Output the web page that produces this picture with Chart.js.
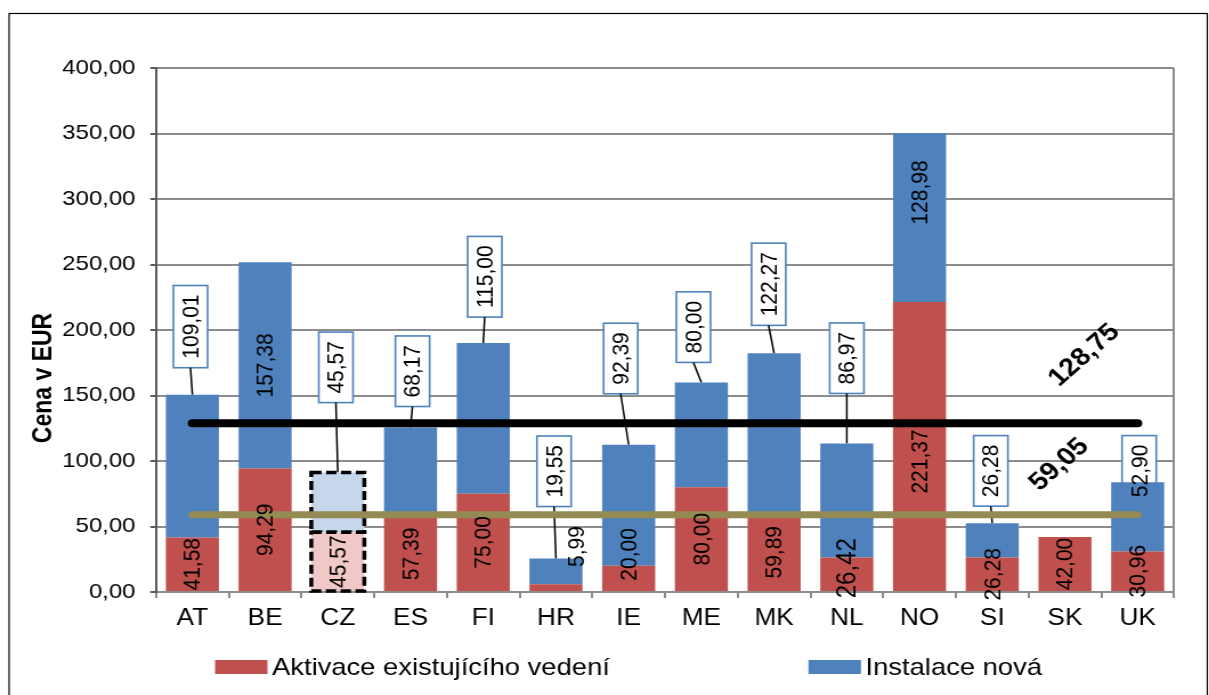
<!DOCTYPE html>
<html>
<head>
<meta charset="utf-8">
<script src="https://cdn.jsdelivr.net/npm/chart.js@4.4.0/dist/chart.umd.min.js"></script>
<style>
  html, body { margin: 0; padding: 0; background: #fff; overflow: hidden; }
  /* the reference is stretched sideways, so the chart is drawn narrower and stretched the same way */
  #wrap { width: 1060px; height: 695px; transform: scaleX(1.1406); transform-origin: 0 0; }
</style>
</head>
<body>
<div id="wrap"><canvas id="myChart"></canvas></div>
<script>
const categories = ['AT', 'BE', 'CZ', 'ES', 'FI', 'HR', 'IE', 'ME', 'MK', 'NL', 'NO', 'SI', 'SK', 'UK'];

// Aktivace existujícího vedení (red, bottom)
const aktivace = [41.58, 94.29, 45.57, 57.39, 75.00, 5.99, 20.00, 80.00, 59.89, 26.42, 221.37, 26.28, 42.00, 30.96];
// Instalace nová (blue, top)
const instalace = [109.01, 157.38, 45.57, 68.17, 115.00, 19.55, 92.39, 80.00, 122.27, 86.97, 128.98, 26.28, null, 52.90];

// the two horizontal reference lines
const prumerCelkem = [128.75, 128.75, 128.75, 128.75, 128.75, 128.75, 128.75, 128.75, 128.75, 128.75, 128.75, 128.75, 128.75, 128.75];
const prumerAktivace = [59.05, 59.05, 59.05, 59.05, 59.05, 59.05, 59.05, 59.05, 59.05, 59.05, 59.05, 59.05, 59.05, 59.05];

const yTicks = [0, 50, 100, 150, 200, 250, 300, 350, 400];
const highlighted = 'CZ';

const RED = '#C0504D';
const BLUE = '#4F81BD';
const RED_LIGHT = '#F0C8C7';
const BLUE_LIGHT = '#C6D6EB';

// where each blue label goes: box above the bar (dx, gap to bar top) or inside the segment
const blueLayout = [
    { box: true, dx: -1.7, gap: 27 },
    { box: false, dy: 0 },
    { box: true, dx: -1.7, gap: 70 },
    { box: true, dx: 1.7, gap: 21 },
    { box: true, dx: 1.3, gap: 26 },
    { box: true, dx: -1.7, gap: 52 },
    { box: true, dx: -7, gap: 51 },
    { box: true, dx: -7, gap: 20 },
    { box: true, dx: -4.8, gap: 28 },
    { box: true, dx: 0, gap: 50 },
    { box: false, dy: -25 },
    { box: true, dx: -1.3, gap: 17 },
    null,
    { box: true, dx: 1.3, gap: -24, noLeader: true }
];
// shifts of the red labels from the middle of their segment
const redLayout = [
    { dx: 0, dy: 0 }, { dx: 0, dy: 0 }, { dx: 0, dy: 0 }, { dx: 0, dy: 0 }, { dx: 0, dy: 0 },
    { dx: 17.5, dy: -41 }, { dx: 0, dy: -24 }, { dx: 0, dy: 0 }, { dx: 0, dy: 0 }, { dx: 0, dy: -6, size: 24 },
    { dx: 0, dy: 15 }, { dx: 0, dy: 0 }, { dx: 0, dy: 0 }, { dx: 0, dy: 0 }
];

const FONT = '"Liberation Sans", Arial, sans-serif';
const LABEL_FONT = '21px ' + FONT;

function fmt(v) {
    return v.toFixed(2).replace('.', ',');
}

function vText(ctx, text, x, y) {
    ctx.save();
    ctx.translate(x, y);
    ctx.rotate(-Math.PI / 2);
    ctx.textAlign = 'center';
    ctx.textBaseline = 'middle';
    ctx.fillText(text, 0, 1);
    ctx.restore();
}

function boxFor(ctx, el, i) {
    const lay = blueLayout[i];
    ctx.font = LABEL_FONT;
    const len = ctx.measureText(fmt(instalace[i])).width + 18;
    const w = 30;
    const cx = el.x + lay.dx;
    const bottom = el.y - lay.gap;
    return { cx, left: cx - w / 2, top: bottom - len, w, h: len, bottom, cy: bottom - len / 2 };
}

const labelPlugin = {
    id: 'labelPlugin',
    beforeDatasetsDraw(chart) {
        const ctx = chart.ctx;
        const meta = chart.getDatasetMeta(1);
        ctx.save();
        meta.data.forEach((el, i) => {
            const lay = blueLayout[i];
            if (!lay || !lay.box) return;
            const b = boxFor(ctx, el, i);
            ctx.fillStyle = '#fff';
            ctx.fillRect(b.left, b.top, b.w, b.h);
            ctx.strokeStyle = BLUE;
            ctx.lineWidth = 1.6;
            ctx.strokeRect(b.left, b.top, b.w, b.h);
            if (!lay.noLeader) {
                ctx.strokeStyle = '#000';
                ctx.lineWidth = 1.5;
                ctx.beginPath();
                ctx.moveTo(b.cx, b.bottom);
                ctx.lineTo(el.x, el.y);
                ctx.stroke();
            }
        });
        ctx.restore();
    },
    afterDatasetDraw(chart, args) {
        if (args.index > 1) return;
        const ctx = chart.ctx;
        const i = categories.indexOf(highlighted);
        const el = args.meta.data[i];
        ctx.save();
        ctx.setLineDash([9, 4]);
        ctx.lineWidth = 3.5;
        ctx.strokeStyle = '#000';
        ctx.strokeRect(el.x - el.width / 2, el.y, el.width, el.base - el.y);
        ctx.restore();
    },
    afterDatasetsDraw(chart) {
        const ctx = chart.ctx;
        ctx.save();
        ctx.fillStyle = '#000';
        chart.getDatasetMeta(0).data.forEach((el, i) => {
            const lay = redLayout[i];
            ctx.font = lay.size ? lay.size + 'px ' + FONT : LABEL_FONT;
            vText(ctx, fmt(aktivace[i]), el.x + lay.dx, (el.y + el.base) / 2 + lay.dy);
        });
        ctx.font = LABEL_FONT;
        chart.getDatasetMeta(1).data.forEach((el, i) => {
            const lay = blueLayout[i];
            if (!lay) return;
            if (lay.box) {
                const b = boxFor(ctx, el, i);
                vText(ctx, fmt(instalace[i]), b.cx, b.cy);
            } else {
                vText(ctx, fmt(instalace[i]), el.x, (el.y + el.base) / 2 + lay.dy);
            }
        });
        ctx.restore();
    },
    afterDraw(chart) {
        const ctx = chart.ctx;
        const x = chart.scales.x;
        const y = chart.scales.y;
        ctx.save();
        // outer frame
        ctx.strokeStyle = '#000';
        ctx.lineWidth = 1.2;
        ctx.strokeRect(8, 13.5, 1050.5, 700);

        // axis title
        ctx.fillStyle = '#000';
        ctx.font = 'bold 23px ' + FONT;
        ctx.translate(38.6, 378);
        ctx.rotate(-Math.PI / 2);
        ctx.textAlign = 'center';
        ctx.textBaseline = 'middle';
        ctx.fillText('Cena v EUR', 0, 0);
        ctx.setTransform(chart.currentDevicePixelRatio, 0, 0, chart.currentDevicePixelRatio, 0, 0);

        // values of the reference lines
        ctx.font = 'bold 25px ' + FONT;
        [[prumerCelkem, 17, -68], [prumerAktivace, -5, -50]].forEach(([arr, dx, dy]) => {
            const last = categories.length - 2;
            ctx.save();
            ctx.translate(x.getPixelForValue(last) + dx, y.getPixelForValue(arr[last]) + dy);
            ctx.rotate(-Math.PI / 4);
            ctx.textAlign = 'center';
            ctx.textBaseline = 'middle';
            ctx.fillText(fmt(arr[last]), 0, 0);
            ctx.restore();
        });

        // legend
        ctx.font = '24px ' + FONT;
        ctx.textBaseline = 'middle';
        ctx.textAlign = 'left';
        const legendItems = [
            { text: 'Aktivace existujícího vedení', color: RED, x: 188.5 },
            { text: 'Instalace nová', color: BLUE, x: 708.8 }
        ];
        legendItems.forEach(item => {
            ctx.fillStyle = item.color;
            ctx.fillRect(item.x, 660, 46, 14);
            ctx.fillStyle = '#000';
            ctx.fillText(item.text, item.x + 50, 668);
        });
        ctx.restore();
    }
};

const ctx = document.getElementById('myChart').getContext('2d');

const myChart = new Chart(ctx, {
    type: 'bar',
    data: {
        labels: categories,
        datasets: [
            {
                label: 'Aktivace existujícího vedení',
                data: aktivace,
                backgroundColor: categories.map(c => c === highlighted ? RED_LIGHT : RED),
                stack: 'ceny',
                order: 2
            },
            {
                label: 'Instalace nová',
                data: instalace,
                backgroundColor: categories.map(c => c === highlighted ? BLUE_LIGHT : BLUE),
                stack: 'ceny',
                order: 2
            },
            {
                type: 'line',
                label: 'průměr celkem',
                data: prumerCelkem,
                borderColor: '#000',
                borderWidth: 8,
                borderCapStyle: 'round',
                pointRadius: 0,
                stack: 'l1',
                order: 1
            },
            {
                type: 'line',
                label: 'průměr aktivace',
                data: prumerAktivace,
                borderColor: '#948A54',
                borderWidth: 7,
                borderCapStyle: 'round',
                pointRadius: 0,
                stack: 'l2',
                order: 1
            }
        ]
    },
    options: {
        responsive: true,
        maintainAspectRatio: false,
        animation: false,
        layout: { padding: { left: 0, top: 68, right: 30.7, bottom: 0 } },
        datasets: { bar: { barPercentage: 0.73, categoryPercentage: 1 } },
        plugins: {
            legend: { display: false },
            tooltip: { enabled: false }
        },
        scales: {
            x: {
                stacked: true,
                afterFit: axis => { axis.height = 103; },
                grid: {
                    offset: true,
                    drawOnChartArea: true,
                    color: c => c.index === undefined ? '#8c8c8c' : 'rgba(0,0,0,0)',
                    lineWidth: 2,
                    tickColor: '#8c8c8c',
                    tickLength: 6
                },
                border: { color: '#8c8c8c', width: 2 },
                ticks: {
                    color: '#000',
                    font: { family: FONT, size: 23 },
                    padding: 7,
                    maxRotation: 0,
                    autoSkip: false
                }
            },
            y: {
                stacked: true,
                min: 0,
                max: 400,
                afterFit: axis => { axis.width = 136.8; },
                afterBuildTicks: axis => { axis.ticks = yTicks.map(v => ({ value: v })); },
                grid: {
                    color: '#8c8c8c',
                    lineWidth: 2,
                    tickColor: '#595959',
                    tickLength: 5
                },
                border: { color: '#595959', width: 2 },
                ticks: {
                    color: '#000',
                    font: { family: FONT, size: 21 },
                    padding: 13,
                    callback: v => fmt(v)
                }
            }
        }
    },
    plugins: [labelPlugin]
});
</script>
</body>
</html>
